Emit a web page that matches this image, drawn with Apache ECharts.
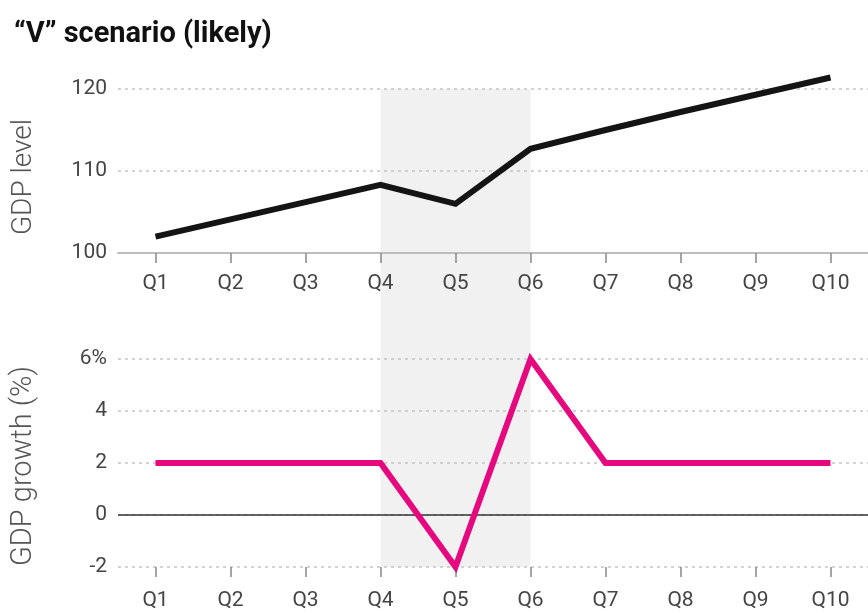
<!DOCTYPE html>
<html>
<head>
<meta charset="utf-8">
<script src="https://cdn.jsdelivr.net/npm/echarts/dist/echarts.min.js"></script>
<style>
html,body{margin:0;padding:0;background:#fff;}
#c{width:868px;height:613px;}
</style>
</head>
<body>
<div id="c"></div>
<script>
// ---- data ----
const quarters = ['Q1','Q2','Q3','Q4','Q5','Q6','Q7','Q8','Q9','Q10'];
const gdpLevel = [102, 104.1, 106.2, 108.3, 106, 112.7, 115, 117.2, 119.3, 121.4];
const gdpGrowth = [2, 2, 2, 2, -2, 6, 2, 2, 2, 2];
const levelTicks = [100, 110, 120];
const growthTicks = [-2, 0, 2, 4, 6];
const shadeFrom = 'Q4';
const shadeTo = 'Q6';
const titleText = '\u201cV\u201d scenario (likely)';
const levelName = 'GDP level';
const growthName = 'GDP growth (%)';

const tickFont = "'Roboto',sans-serif";
const tickColor = '#444';
const gridLine = {show: true, lineStyle: {color: '#c4c4c4', type: [3, 4], width: 1.5}};

const chart = echarts.init(document.getElementById('c'), null, {renderer: 'canvas'});

const option = {
  animation: false,
  backgroundColor: '#fff',
  title: {
    text: titleText,
    left: 9,
    top: 15,
    textStyle: {fontFamily: 'Roboto, sans-serif', fontWeight: 'bold', fontSize: 29, color: '#111'}
  },
  grid: [
    {left: 118, top: 89, height: 164, width: 754},
    {left: 118, top: 359, height: 208, width: 754}
  ],
  xAxis: [
    {
      type: 'category', gridIndex: 0, data: quarters, boundaryGap: true,
      axisLine: {show: true, onZero: false, lineStyle: {color: '#bdbdbd', width: 2}},
      axisTick: {show: true, alignWithLabel: true, length: 10, lineStyle: {color: '#888', width: 1.5}},
      axisLabel: {margin: 20, fontFamily: tickFont, fontSize: 21, color: tickColor},
      splitLine: {show: false}
    },
    {
      type: 'category', gridIndex: 1, data: quarters, boundaryGap: true,
      axisLine: {show: false, onZero: false},
      axisTick: {show: true, alignWithLabel: true, length: 10, lineStyle: {color: '#888', width: 1.5}},
      axisLabel: {margin: 23, fontFamily: tickFont, fontSize: 21, color: tickColor},
      splitLine: {show: false}
    }
  ],
  yAxis: [
    {
      type: 'value', gridIndex: 0,
      min: levelTicks[0], max: levelTicks[levelTicks.length - 1], interval: levelTicks[1] - levelTicks[0],
      name: levelName, nameLocation: 'middle', nameRotate: 90, nameGap: 80,
      nameTextStyle: {fontFamily: "'Roboto',sans-serif", fontWeight: 300, fontSize: 28, color: '#555', padding: [0, 12, 0, 0]},
      axisLine: {show: false}, axisTick: {show: false},
      axisLabel: {margin: 11, fontFamily: tickFont, fontSize: 21, color: tickColor},
      splitLine: gridLine
    },
    {
      type: 'value', gridIndex: 1,
      min: growthTicks[0], max: growthTicks[growthTicks.length - 1], interval: growthTicks[1] - growthTicks[0],
      name: growthName, nameLocation: 'middle', nameRotate: 90, nameGap: 80,
      nameTextStyle: {fontFamily: "'Roboto',sans-serif", fontWeight: 300, fontSize: 29, color: '#555', padding: [0, 6, 0, 0]},
      axisLine: {show: false}, axisTick: {show: false},
      axisLabel: {
        margin: 11, fontFamily: tickFont, fontSize: 21, color: tickColor,
        formatter: v => v === growthTicks[growthTicks.length - 1] ? v + '%' : String(v)
      },
      splitLine: gridLine
    }
  ],
  series: [
    {
      type: 'line', xAxisIndex: 0, yAxisIndex: 0, data: gdpLevel,
      showSymbol: false, clip: false, z: 3,
      lineStyle: {color: '#141414', width: 6, join: 'miter'}
    },
    {
      type: 'line', xAxisIndex: 1, yAxisIndex: 1, data: gdpGrowth,
      showSymbol: false, clip: false, z: 3,
      lineStyle: {color: '#e5087f', width: 6, join: 'miter'},
      markLine: {
        silent: true, z: 1, symbol: ['none', 'none'], label: {show: false},
        lineStyle: {color: '#333', type: 'solid', width: 1.5},
        data: [{yAxis: 0}]
      }
    }
  ]
};
chart.setOption(option);

// shaded recession band spanning both panels, placed via the library's scales
const x1 = chart.convertToPixel({xAxisIndex: 0}, shadeFrom);
const x2 = chart.convertToPixel({xAxisIndex: 0}, shadeTo);
const y1 = chart.convertToPixel({yAxisIndex: 0}, levelTicks[levelTicks.length - 1]);
const y2 = chart.convertToPixel({yAxisIndex: 1}, growthTicks[0]);
chart.setOption({
  graphic: {
    elements: [{
      type: 'rect', z: -10, silent: true,
      shape: {x: x1, y: y1, width: x2 - x1, height: y2 - y1},
      style: {fill: '#f1f1f1'}
    }]
  }
});
</script>
</body>
</html>
